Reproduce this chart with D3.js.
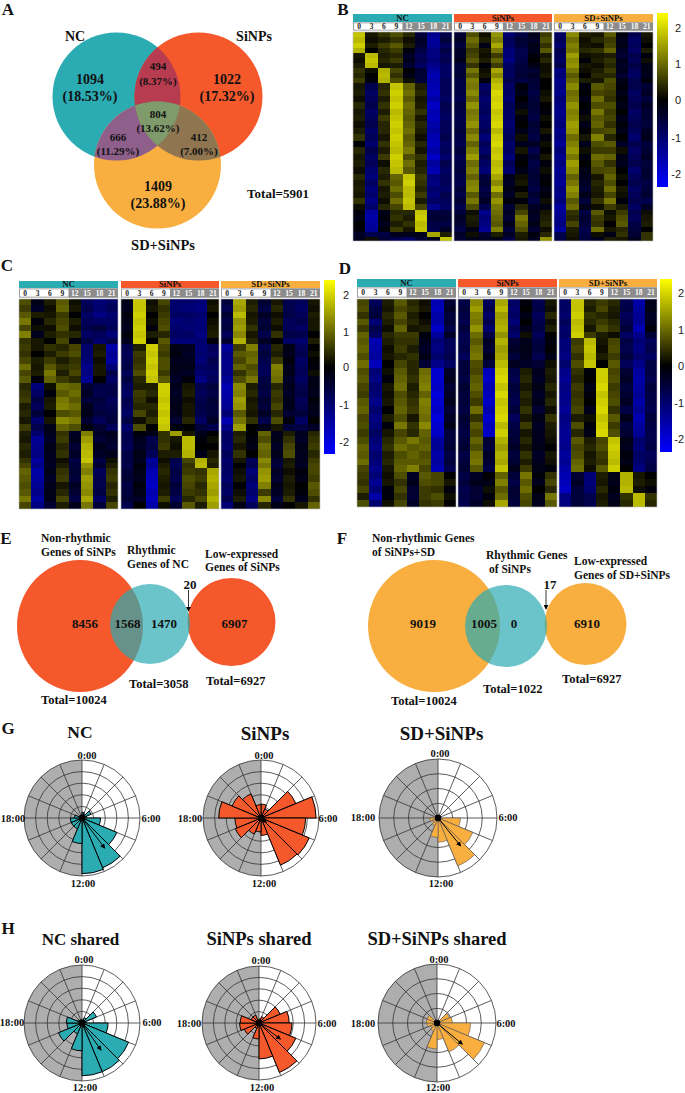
<!DOCTYPE html>
<html><head><meta charset="utf-8">
<script src="https://d3js.org/d3.v7.min.js"></script>
<style>html,body{margin:0;padding:0;background:#fff}svg{display:block}text{font-family:"Liberation Serif",serif;font-weight:bold;fill:#111}</style>
</head><body><svg id="c" width="685" height="1093"></svg>
<script>
// ---------- data ----------
const groupNames=["NC","SiNPs","SD+SiNPs"];
const hours=[0,3,6,9,12,15,18,21];
const legendTicks=[2,1,0,-1,-2];
const vennCounts=["1094","1022","1409","494","804","666","412"];
const vennPercents=["(18.53%)","(17.32%)","(23.88%)","(8.37%)","(13.62%)","(11.29%)","(7.00%)"];
const clockLabels=["0:00","6:00","12:00","18:00"];
// heat rows in tenths of a z-score: number of genes (row span), then NC | SiNPs | SD+SiNPs
const spanB=[16,16,16,16,15,15,15,15,15,15,19,19,19,19,19,19,19,19,19,19,20,20,20,20,18,18,18,18,18,18,17,17,17,16,15,12];
const heatB=[
[20,2,5,8,4,-6,-14,-8,-5,8,1,15,-11,-7,-3,6,-10,14,3,2,9,-1,-8,2],
[19,1,3,5,1,-4,-16,-6,-4,11,3,13,-9,-5,-4,8,-9,11,1,4,6,-3,-10,1],
[21,3,6,9,3,-5,-15,-9,-6,9,-2,17,-10,-6,-2,5,-11,13,2,1,7,-2,-9,0],
[18,0,4,6,-1,-7,-13,-7,-4,6,2,12,-12,-8,-3,9,-8,12,4,5,10,-4,-10,3],
[2,19,3,4,-4,-9,-13,-9,-4,7,1,6,-12,-8,-1,2,-9,16,1,2,3,-5,-8,-1],
[1,20,4,6,-3,-8,-12,-8,-3,9,3,10,-13,-7,0,4,-10,14,-1,3,5,-3,-9,1],
[3,19,2,3,-5,-10,-14,-10,-6,5,-1,6,-10,-6,-2,1,-8,15,2,1,4,-4,-7,-2],
[5,1,18,7,0,-5,-16,-10,-6,12,1,17,-9,-6,-5,1,-13,12,1,3,6,-3,-9,-2],
[4,0,19,5,-2,-5,-18,-10,-5,9,2,14,-10,-5,-4,2,-12,9,0,4,4,-5,-10,-3],
[6,-1,18,8,1,-6,-17,-9,-7,13,-1,18,-8,-7,-5,0,-14,11,3,2,8,-2,-8,-1],
[2,-8,4,20,10,3,-18,-9,-7,12,-10,20,-10,-1,-6,0,-13,14,-1,9,7,-1,-8,-5],
[3,-10,5,21,11,4,-19,-9,-7,14,-9,22,-10,-2,-7,1,-14,11,0,7,6,-2,-10,-4],
[1,-9,3,20,9,2,-17,-10,-8,11,-11,21,-11,0,-6,2,-12,12,-2,11,5,-1,-9,-6],
[4,-8,5,21,11,3,-20,-8,-6,15,-10,22,-9,-2,-5,0,-13,15,0,8,8,-2,-8,-4],
[2,-10,3,19,10,5,-18,-9,-7,12,-9,20,-10,1,-6,-1,-14,13,-1,12,6,0,-10,-5],
[3,-9,6,20,9,2,-19,-10,-8,13,-11,21,-10,-1,-7,1,-13,14,1,9,7,-3,-9,-5],
[1,-8,4,21,10,4,-17,-9,-7,15,-10,22,-11,0,-5,0,-12,16,-2,10,5,-1,-8,-6],
[3,-10,4,20,11,3,-16,-9,-6,11,-9,19,-10,-2,-6,2,-14,15,0,7,8,-2,-9,-4],
[5,-9,2,21,9,1,-18,-8,-7,14,-12,21,-9,1,-7,-1,-13,11,2,13,4,0,-11,-3],
[0,-11,5,20,10,4,-19,-10,-8,10,-9,22,-11,-3,-4,1,-15,13,-3,8,9,-4,-8,-6],
[4,-8,3,19,12,2,-17,-9,-6,13,-11,20,-10,2,-8,0,-12,15,1,6,6,1,-10,-5],
[2,-10,6,21,8,5,-20,-11,-8,16,-8,21,-12,-1,-5,2,-14,12,-1,11,10,-2,-9,-4],
[3,-9,1,20,11,3,-16,-8,-7,11,-10,19,-9,0,-7,-1,-13,16,0,9,5,-3,-8,-6],
[1,-11,4,19,9,4,-18,-10,-6,13,-12,20,-11,-2,-6,1,-15,14,-2,7,8,0,-11,-5],
[4,-12,3,10,20,6,-12,-9,-7,10,-6,17,-3,1,-5,-1,-14,10,-3,2,10,1,-9,-5],
[2,-10,5,9,21,5,-13,-9,-8,13,-5,14,-4,2,-6,0,-15,12,-4,4,8,0,-8,-7],
[3,-12,2,11,19,4,-11,-10,-6,14,-7,18,-2,0,-7,-2,-13,15,-5,3,11,2,-10,-6],
[2,-11,3,8,19,6,-12,-8,-7,9,-6,11,-4,3,-5,-1,-14,13,-3,2,7,1,-9,-5],
[5,-13,1,11,20,3,-10,-9,-5,12,-4,15,-1,-1,-7,1,-12,9,-6,5,12,-1,-8,-8],
[1,-11,4,7,19,7,-14,-10,-8,8,-8,12,-5,4,-4,-2,-16,11,-2,1,6,3,-10,-4],
[-1,-16,-2,4,4,20,-6,-6,-6,1,-14,11,-4,7,-3,2,-15,5,-7,9,1,6,-8,1],
[-2,-17,-1,5,3,21,-5,-5,-4,3,-12,10,-5,12,-4,3,-14,4,-5,6,2,8,-9,2],
[0,-16,-3,3,5,19,-7,-7,-5,2,-13,9,-3,10,-2,4,-13,7,-6,5,0,9,-7,3],
[-1,-15,-1,6,2,20,-8,-4,-7,-2,-15,13,-6,8,-5,1,-16,3,-8,11,2,4,-6,0],
[-4,-8,-7,-3,-2,-3,17,3,-4,1,-5,3,-4,3,-1,4,-8,2,-7,1,-2,5,-5,5],
[-3,1,-5,-8,-10,-5,-3,20,-5,-2,-4,-2,-7,2,-3,15,-7,1,-6,-3,3,2,-3,5]];

const spanC=[19,20,19,20,19,20,19,19,19,19,19,19,20,20,21,20,21,20,21,21,14,22,22,22,15,14,21,21,21,21,20,20];
const heatC=[
[8,-2,3,9,1,-9,-12,-10,-2,20,1,7,-11,-11,-12,1,-6,17,3,-5,2,-8,-9,2],
[6,-4,1,10,2,-8,-11,-9,-3,20,2,5,-11,-12,-13,2,-8,16,4,-7,4,-8,-10,1],
[9,3,2,6,0,-10,-13,-11,-1,21,0,6,-10,-10,-11,0,-5,19,2,-4,1,-7,-9,3],
[12,-1,4,7,3,-9,-10,-10,-2,20,1,7,-12,-11,-12,1,-7,15,3,-6,3,-9,-8,2],
[7,1,1,8,1,-8,-6,-9,-3,21,-1,8,-11,-12,-12,2,-6,16,5,-5,1,-9,-10,2],
[13,-3,3,5,4,-10,-9,-12,-1,20,3,4,-10,-10,-13,3,-9,14,2,-8,5,-7,-8,0],
[5,2,0,7,-1,-7,-11,-8,-3,21,0,9,-12,-12,-11,-1,-5,18,4,-4,0,-10,-11,3],
[6,2,5,4,7,-11,2,-17,-8,3,21,7,-2,-3,-12,-9,-16,6,13,-8,4,-2,-9,0],
[5,0,3,6,8,-11,3,-15,-9,6,20,6,-1,-4,-11,-10,-13,9,10,-6,3,-3,-8,1],
[7,3,6,3,5,-12,1,-16,-8,5,21,8,-3,-3,-12,-8,-14,7,11,-8,6,-1,-10,0],
[11,2,9,5,6,-14,2,-12,-7,6,20,8,-2,-2,-10,-9,-14,10,8,-9,13,-3,-9,-1],
[7,3,12,3,7,-13,2,-8,-9,8,21,6,-3,-4,-11,-10,-13,5,9,-9,12,-2,-9,1],
[9,-1,10,6,4,-15,0,-10,-7,4,20,9,-4,-1,-13,-9,-15,8,12,-7,11,-4,-10,-2],
[4,-12,1,11,10,-5,-7,-8,-9,3,3,21,-3,2,-8,-6,-18,14,3,-6,4,-3,-8,-2],
[5,-10,-1,9,11,-4,-8,-7,-10,6,4,21,-4,3,-9,-7,-17,13,4,-7,6,-4,-7,-3],
[6,-7,2,12,9,-6,-6,-9,-8,5,1,20,-3,1,-8,-5,-16,16,2,-5,5,-2,-9,-1],
[3,-9,3,13,11,-3,-7,-8,-9,4,4,21,-2,2,-7,-6,-15,15,3,-6,7,-3,-8,-2],
[4,-6,0,8,9,-2,-6,-7,-10,7,3,20,-3,2,-8,-6,-12,9,2,-4,4,-5,-6,-3],
[2,-11,2,14,12,-5,-9,-6,-7,1,5,21,-5,4,-10,-4,-18,12,5,-8,8,-1,-10,0],
[6,-8,-2,10,8,-1,-5,-9,-11,8,0,20,-1,0,-6,-8,-14,16,0,-3,2,-6,-7,-4],
[3,-11,-3,5,-4,13,-4,-3,-8,-1,-2,5,16,2,-3,0,-10,3,0,10,-3,3,-3,4],
[2,-15,-4,6,-3,16,-5,-4,-8,-3,-8,5,2,19,-1,1,-10,4,-1,8,-2,5,-4,5],
[4,-14,-2,4,-5,18,-3,-5,-9,-4,-7,6,1,19,0,0,-11,2,-2,11,-4,7,-2,6],
[3,-13,-3,5,-4,19,-4,-3,-7,-2,-9,3,3,18,-2,2,-9,5,0,10,-3,8,-3,4],
[5,-16,-3,1,-7,20,-7,1,-7,-3,-16,1,-8,7,18,4,-11,2,-9,14,-5,2,-3,6],
[7,-14,-4,3,-6,15,-5,3,-8,-1,-15,3,-9,5,19,3,-10,0,-8,12,-6,3,-4,7],
[10,-17,-2,5,-5,13,-9,5,-6,-2,-18,4,-7,6,5,17,-10,1,-12,15,-4,1,-1,7],
[9,-16,-4,6,-6,16,-8,6,-5,-3,-19,3,-8,8,6,18,-11,2,-10,16,-5,3,-2,6],
[8,-15,-3,2,-4,15,-8,4,-7,-1,-20,2,-6,7,4,17,-9,0,-12,13,-3,2,0,9],
[9,-14,-2,4,-5,14,-7,5,-6,-2,-18,3,-7,6,5,16,-10,1,-11,6,-4,3,-1,8],
[12,-16,-3,7,-7,17,-10,3,-5,-4,-19,6,-9,4,7,18,-8,3,-13,14,-6,5,-3,5],
[7,-13,-5,3,-3,12,-6,7,-8,0,-17,1,-5,9,3,16,-12,-2,-9,4,-2,0,2,10]];

const spanD=[19,19,19,19,19,18,21,21,21,22,22,22,23,22,23,22,22,23,21,21,21,21,20,19,19,20,21,21,20];
const heatD=[
[7,-9,3,9,4,1,-18,-5,-7,14,-9,17,-10,-1,-8,2,-10,20,4,6,4,-8,-17,-3],
[8,-7,2,7,5,2,-19,-4,-6,16,-8,19,-11,0,-7,1,-10,20,3,7,3,-7,-16,-2],
[5,-6,4,9,3,0,-17,-6,-7,13,-10,16,-10,-2,-9,4,-11,21,5,4,2,-9,-15,-4],
[9,-12,3,7,4,1,-17,-5,-8,12,-8,17,-12,0,-8,1,-9,19,4,6,4,-8,-15,-3],
[6,-8,1,10,2,3,-20,-7,-6,15,-11,18,-9,-3,-7,3,-11,20,2,8,5,-6,-18,-1],
[10,-10,4,6,6,-1,-16,-4,-8,11,-7,15,-11,1,-9,0,-10,21,6,3,1,-10,-14,-5],
[9,-18,3,5,5,-3,-12,-9,-8,9,-4,18,-5,-3,-7,-1,-12,6,19,2,7,-7,-12,-9],
[10,-17,1,6,3,-4,-13,-9,-7,11,-5,16,-4,-2,-6,0,-12,7,20,1,8,-8,-13,-8],
[8,-16,2,4,5,-2,-11,-8,-9,12,-3,17,-6,-3,-8,-2,-13,5,19,3,6,-6,-11,-10],
[11,-19,0,7,4,-5,-14,-10,-6,8,-6,19,-3,-4,-5,1,-11,8,20,0,9,-9,-14,-7],
[8,-12,1,9,4,11,-21,-4,-6,7,-19,21,-7,3,-3,3,-14,5,-1,21,7,-5,-16,-7],
[9,-13,-1,10,5,12,-21,-3,-7,9,-20,22,-8,4,-4,2,-15,4,0,21,8,-4,-17,-8],
[7,-11,2,11,3,13,-20,-5,-5,10,-18,20,-6,2,-2,4,-13,6,-2,22,6,-6,-16,-6],
[6,-12,1,8,4,10,-22,-4,-6,8,-19,22,-7,4,-4,2,-14,5,-1,20,7,-5,-15,-7],
[9,-14,2,9,5,13,-21,-3,-6,6,-20,20,-8,3,-3,4,-14,6,0,21,8,-4,-17,-7],
[10,-11,0,10,6,12,-20,-5,-7,11,-18,21,-6,5,-5,1,-15,7,-3,22,5,-7,-15,-8],
[7,-13,3,8,2,11,-22,-4,-5,5,-21,22,-9,2,-2,5,-13,3,1,20,9,-3,-18,-6],
[8,-12,-1,12,5,14,-21,-2,-6,9,-19,19,-7,6,-4,3,-14,8,-1,21,6,-6,-16,-7],
[6,-10,2,7,4,10,-20,-6,-7,7,-20,21,-6,2,-3,2,-15,4,-2,22,8,-5,-15,-8],
[8,-12,4,9,12,9,-16,-6,-6,10,-5,18,-5,4,-3,1,-15,9,3,7,20,-2,-11,-8],
[10,-13,5,11,9,10,-15,-5,-5,8,-6,16,-4,2,-2,0,-14,7,4,8,21,-3,-12,-7],
[9,-11,3,8,10,8,-17,-7,-7,11,-4,18,-6,5,-4,2,-16,8,2,6,20,-1,-10,-9],
[11,-12,4,9,9,9,-16,-6,-6,12,-5,17,-5,3,-3,1,-15,10,3,5,19,-2,-11,-8],
[7,-14,2,10,13,7,-18,-8,-5,9,-7,20,-3,6,-2,-1,-17,11,1,9,21,0,-13,-7],
[6,-12,1,8,-4,9,7,0,-7,-4,0,10,-6,12,-1,5,-18,-5,-12,3,-2,18,2,0],
[5,-15,2,5,-3,8,7,2,-6,-3,-2,13,-7,9,-3,7,-19,-4,-12,2,-3,18,3,1],
[7,-12,-1,7,-5,6,5,-1,-8,-5,1,9,-5,11,0,4,-20,-6,-11,4,-1,19,1,-1],
[3,-17,-1,5,-5,6,8,1,-7,-5,-1,11,-5,8,-2,12,-13,-6,-8,2,-3,5,19,5],
[8,-11,1,7,-4,5,6,0,-8,-4,1,17,-6,7,-3,9,-13,-6,-8,3,-2,4,19,4],
[4,-10,-3,2,-8,2,2,3,-7,-3,-1,8,-6,3,-4,15,-9,-4,-9,-5,-8,2,5,20]];

// rose histograms: share of outer ring per 1.5 h bin, clockwise from 0:00
const roseNC=[.1,.08,.17,.08,.32,.65,.93,.96,.44,.2,.2,.2,.13,.05,.05,.05];
const roseSi=[.24,.17,.65,.95,.77,.9,.88,.3,.24,.3,.48,.45,.73,.54,.45,.23];
const roseSD=[.06,.04,.05,.05,.38,.64,.88,.41,.33,.14,.1,.14,.08,.05,.05,.06];
const roseNCs=[.05,.1,.27,.07,.45,.87,.91,.91,.48,.2,.44,.26,.27,.08,.05,.06];
const roseSis=[.07,.12,.4,.53,.58,.7,.94,.63,.28,.1,.28,.34,.33,.15,.15,.05];
const roseSDs=[.05,.05,.23,.26,.57,.87,.53,.28,.44,.15,.12,.17,.18,.18,.05,.05];
// mean vectors: clock angle in degrees, length as share of outer ring
const arrowAngles=[143,130,141,145,127,130];
const arrowLengths=[.65,.12,.61,.57,.47,.56];

// ---------- drawing ----------
const TEAL="#2BABB2",RED="#F4582B",ORANGE="#F9AE40",GRAY="#AEAEAE";
const svg=d3.select("#c");
const defs=svg.append("defs");
defs.append("marker").attr("id","ah").attr("viewBox","0 0 6 6").attr("refX",5).attr("refY",3)
 .attr("markerWidth",5).attr("markerHeight",5).attr("markerUnits","userSpaceOnUse").attr("orient","auto")
 .append("path").attr("d","M0,0L6,3L0,6Z").attr("fill","#000");
defs.append("filter").attr("id","soft").attr("x","-2%").attr("y","-2%").attr("width","104%").attr("height","104%")
 .append("feGaussianBlur").attr("stdDeviation","0.5 0.6");
function T(x,y,s,size,anchor,col,fam,w){const t=svg.append("text").attr("x",x).attr("y",y).attr("dy","0.35em")
 .attr("font-size",size).attr("text-anchor",anchor||"middle").text(s);
 if(col)t.style("fill",col); if(fam)t.style("font-family",fam); if(w)t.style("font-weight",w); return t;}

[["A",8,9],["B",343,9],["C",7,265],["D",345,268],["E",6,538],["F",342,538],["G",8,728],["H",8,928]]
 .forEach(d=>T(d[1],d[2],d[0],17));

// Venn A
const vc=[{x:116.5,y:96.5,r:64},{x:198.5,y:96.5,r:64},{x:157.5,y:165,r:63.5}];
vc.forEach((c,i)=>defs.append("clipPath").attr("id","vc"+i).append("circle").attr("cx",c.x).attr("cy",c.y).attr("r",c.r));
[TEAL,RED,ORANGE].forEach((f,i)=>svg.append("circle").attr("cx",vc[i].x).attr("cy",vc[i].y).attr("r",vc[i].r).attr("fill",f));
function inter(a,b,f,c){let g=svg.append("g").attr("clip-path",`url(#vc${a})`);
 let h=g.append("g").attr("clip-path",`url(#vc${b})`);
 if(c!==undefined)h=h.append("g").attr("clip-path",`url(#vc${c})`);
 h.append("rect").attr("width",685).attr("height",300).attr("fill",f);}
inter(0,1,"#B83C4F");inter(0,2,"#8F5F8C");inter(1,2,"#8F7550");inter(0,1,"#7F9A6B",2);
T(75,36,groupNames[0],14);T(254,36,groupNames[1],14);T(163,245,groupNames[2],14.5);
T(278,193,"Total=5901",13);
[[90,79,96,14],[227,79,96,14],[158,186,203,14],[158,66,81,11],[158,114,128,11],[118,137,151,11],[199,137,151,11]]
 .forEach((p,i)=>{T(p[0],p[1],vennCounts[i],p[3]);T(p[0],p[2],vennPercents[i],p[3]);});

// Heat maps
const heatColor=d3.scaleLinear().domain([-26,0,26]).range(["#0000ff","#000000","#ffff00"]);
const hdr=[TEAL,RED,ORANGE];
function heat(name,data,spans,xs,yHead,yBand,yTop,yBot,bar,labelsX,labelsY){
 const cum=d3.cumsum(spans),total=cum[cum.length-1];
 const yS=d3.scaleLinear().domain([0,total]).range([yTop,yBot]);
 xs.forEach((xr,p)=>{
  svg.append("rect").attr("x",xr[0]).attr("y",yHead).attr("width",xr[1]-xr[0]).attr("height",yBand-yHead-.5).attr("fill",hdr[p]);
  T((xr[0]+xr[1])/2,(yHead+yBand)/2-.3,groupNames[p],8.7);
  const xS=d3.scaleBand().domain(hours).range(xr);
  svg.append("rect").attr("x",xr[0]+.4).attr("y",yBand+.4).attr("width",xr[1]-xr[0]-.8).attr("height",yTop-yBand-2.3).attr("fill","#fff").attr("stroke","#8a8a8a").attr("stroke-width",.8);
  svg.append("rect").attr("x",xS(12)).attr("y",yBand).attr("width",xr[1]-xS(12)).attr("height",yTop-yBand-1.5).attr("fill","#8c8c8c");
  hours.forEach(h=>T(xS(h)+xS.bandwidth()/2,(yBand+yTop-1.5)/2,h,7.5,"middle",h>=12?"#fff":"#222"));
  const cid="clip"+name+p;
  defs.append("clipPath").attr("id",cid).append("rect").attr("x",xr[0]).attr("y",yTop).attr("width",xr[1]-xr[0]).attr("height",yBot-yTop);
  const g=svg.append("g").attr("clip-path",`url(#${cid})`).append("g").attr("filter","url(#soft)").attr("shape-rendering","crispEdges");
  data.forEach((row,r)=>{
   const y0=yS(r?cum[r-1]:0),y1=yS(cum[r]);
   hours.forEach((h,c)=>{g.append("rect").attr("x",xS(h)).attr("width",xS.bandwidth()+.6).attr("y",y0).attr("height",y1-y0+.6).attr("fill",heatColor(row[p*8+c]));});
  });
  svg.append("rect").attr("x",xr[0]).attr("y",yTop).attr("width",xr[1]-xr[0]).attr("height",yBot-yTop).attr("fill","none").attr("stroke","#bbb").attr("stroke-width",.6);
 });
 const id="lg"+name;
 const lg=defs.append("linearGradient").attr("id",id).attr("x1",0).attr("x2",0).attr("y1",0).attr("y2",1);
 [[0,"#ffff00"],[.5,"#000000"],[1,"#0000ff"]].forEach(s=>lg.append("stop").attr("offset",s[0]).attr("stop-color",s[1]));
 svg.append("rect").attr("x",bar[0]).attr("y",bar[1]).attr("width",bar[2]).attr("height",bar[3]).attr("fill",`url(#${id})`);
 legendTicks.forEach((t,i)=>T(labelsX,labelsY[i],t,11,"end","#222","Liberation Sans","normal"));
}
heat("B",heatB,spanB,[[353,452],[454,552],[554,653]],14,22.5,32,241,[657,13,11,174],681,[28,64,100,138,174]);
heat("C",heatC,spanC,[[19,118],[121,219],[221,320]],281,288.5,299,509,[324,280,11,174],349,[295,332,367,405,442]);
heat("D",heatD,spanD,[[357,456],[458,557],[559,657]],279,287.5,299,507,[660,279,12,173],684,[293,330,366,403,439]);

// Overlap diagrams E, F
function ell(cx,cy,rx,ry,f,o){svg.append("ellipse").attr("cx",cx).attr("cy",cy).attr("rx",rx).attr("ry",ry).attr("fill",f).attr("opacity",o||1);}
function arrow(x,y0,y1){svg.append("line").attr("x1",x).attr("x2",x).attr("y1",y0).attr("y2",y1).attr("stroke","#000").attr("stroke-width",.8).attr("marker-end","url(#ah)");}
ell(80,626,63,66,RED);ell(231.5,622,44,44,RED);ell(150,624,40,40,TEAL,.7);
ell(434,626,66,66,ORANGE);ell(585.5,624,41,41,ORANGE);ell(506,626,41,41,TEAL,.7);
arrow(188.5,590,611);arrow(546,590,609);
[["Non-rhythmic",41,538],["Genes of SiNPs",41,552],["Rhythmic",127,550],["Genes of NC",127,564],["Low-expressed",205,554],["Genes of SiNPs",205,567],
 ["Non-rhythmic Genes",372,538],["of SiNPs+SD",372,552],["Rhythmic Genes",486,555],["of SiNPs",489,569],["Low-expressed",574,561],["Genes of SD+SiNPs",574,575]]
 .forEach(d=>T(d[1],d[2],d[0],11.5,"start"));
[["Total=10024",41,700],["Total=3058",129,684],["Total=6927",206,681],["Total=10024",391,701],["Total=1022",483,689],["Total=6927",562,679]]
 .forEach(d=>T(d[1],d[2],d[0],12.5,"start"));
[["8456",85,623],["1568",127.5,623],["1470",164,623],["6907",234.5,623],["9019",423,623],["1005",484,623],["0",514,623],["6910",587,623]]
 .forEach(d=>T(d[1],d[2],d[0],13));
T(190,584,"20",13);T(550,584,"17",13);

// Rose plots
function rose(cx,cy,R,rings,vals,fill,sw,aAng,aLen,title,ty,lab){
 const g=svg.append("g").attr("transform",`translate(${cx},${cy})`);
 const rS=d3.scaleLinear().domain([0,1]).range([0,R]);
 const aS=d3.scaleLinear().domain([0,16]).range([0,2*Math.PI]);
 g.append("circle").attr("r",R).attr("fill","#fff");
 g.append("path").attr("d",d3.arc()({innerRadius:0,outerRadius:R,startAngle:Math.PI,endAngle:2*Math.PI})).attr("fill",GRAY);
 d3.range(1,rings+1).forEach(i=>g.append("circle").attr("r",rS(i/rings)).attr("fill","none").attr("stroke","#333").attr("stroke-width",.8));
 d3.range(16).forEach(i=>{const a=aS(i);g.append("line").attr("x2",R*Math.sin(a)).attr("y2",-R*Math.cos(a)).attr("stroke","#333").attr("stroke-width",.8);});
 const arc=d3.arc().innerRadius(0);
 vals.forEach((v,i)=>g.append("path").attr("d",arc({outerRadius:rS(v),startAngle:aS(i),endAngle:aS(i+1)})).attr("fill",fill).attr("stroke",sw?"#000":"#555").attr("stroke-width",sw||.6));
 const a=aAng*Math.PI/180;
 g.append("line").attr("x2",rS(aLen)*Math.sin(a)).attr("y2",-rS(aLen)*Math.cos(a)).attr("stroke","#000").attr("stroke-width",1).attr("marker-end","url(#ah)");
 g.append("circle").attr("r",3.2).attr("fill","#000");
 T(title[1],ty,title[0],title[2]);
 clockLabels.forEach((s,i)=>T(lab[i][0],lab[i][1],s,10.5));
}
const rowG=818,rowH=1023;
rose(82,rowG,58,5,roseNC,TEAL,1,arrowAngles[0],arrowLengths[0],["NC",80,17.5],732,[[87,755],[151,818],[83,883],[13,818]]);
rose(261,rowG,58,5,roseSi,RED,1,arrowAngles[1],arrowLengths[1],["SiNPs",265,19],733,[[264,755],[328,818],[264,883],[190,818]]);
rose(438,rowG,59,4,roseSD,ORANGE,0,arrowAngles[2],arrowLengths[2],["SD+SiNPs",441.5,19],733,[[440,753],[508,817],[441,883],[363,817]]);
rose(82,rowH,58,5,roseNCs,TEAL,1,arrowAngles[3],arrowLengths[3],["NC shared",80.5,17],939,[[84,959],[152,1022],[85,1087],[12,1022]]);
rose(259,rowH,57,5,roseSis,RED,1,arrowAngles[4],arrowLengths[4],["SiNPs shared",259,18.5],939,[[261,960],[327,1023],[262,1087],[189,1023]]);
rose(437,rowH,59,4,roseSDs,ORANGE,0,arrowAngles[5],arrowLengths[5],["SD+SiNPs shared",437,18.5],939,[[439,959],[506,1023],[438,1087],[363,1023]]);
</script></body></html>
